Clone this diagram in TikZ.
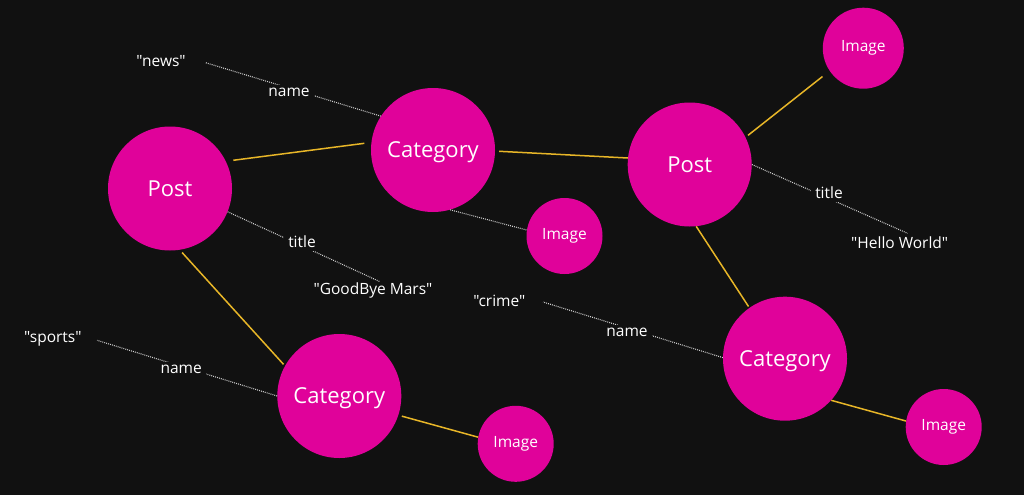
\documentclass[tikz,border=0pt]{standalone}
\usepackage{fontspec}
\setmainfont{Open Sans}[Ligatures=TeXOff]
\usetikzlibrary{calc}
\definecolor{bg}{RGB}{17,17,17}
\definecolor{mag}{RGB}{224,2,154}
\definecolor{gold}{RGB}{232,182,40}
\definecolor{dotc}{RGB}{210,210,210}
\tikzset{
  bigc/.style={circle, fill=mag, minimum size=124pt, inner sep=0pt, text=white, text height=15.5pt, text depth=0pt, font=\fontsize{22}{26}\selectfont},
  smallc/.style={circle, fill=mag, minimum size=76pt, inner sep=0pt, text=white, text height=7.4pt, text depth=0pt, font=\fontsize{15.5}{19}\selectfont},
  val/.style={text=white, inner sep=0pt, font=\fontsize{15.5}{19}\selectfont},
  lbl/.style={text=white, fill=bg, inner xsep=4pt, inner ysep=3pt, font=\fontsize{15.5}{19}\selectfont},
  rel/.style={draw=gold, line width=1.5pt},
  prop/.style={draw=dotc, line width=1.1pt, dash pattern=on 0.9pt off 1.1pt}
}
\begin{document}
\begin{tikzpicture}[x=1pt,y=-1pt]
\fill[bg] (0,0) rectangle (1024,495);
\useasboundingbox (0,0) rectangle (1024,495);
% circles
\node[bigc] (post1) at (170,188.5) {Post};
\node[bigc] (cat1) at (433,150) {Category};
\node[bigc] (post2) at (689.7,164.5) {Post};
\node[smallc, minimum size=81pt] (img1) at (863.3,48.2) {Image};
\node[smallc] (img2) at (564.5,236) {Image};
\node[bigc] (cat2) at (339.3,396) {Category};
\node[smallc] (img3) at (515.7,443.8) {Image};
\node[bigc] (cat3) at (785,358.7) {Category};
\node[smallc] (img4) at (943.7,427) {Image};
% values
\node[val] (news) at (161,61) {"news"};
\node[val] (gbm) at (373,290.5) {"GoodBye Mars"};
\node[val] (hw) at (899.7,243) {"Hello World"};
\node[val] (crime) at (499.3,301) {"crime"};
\node[val] (sports) at (52.8,339.3) {"sports"};
% relationships
\draw[rel, shorten <=7.5pt, shorten >=7pt] (post1.26) -- (cat1.173);
\draw[rel, shorten <=4pt] (cat1.-1) -- (post2.174);
\draw[rel, shorten <=3pt, shorten >=9pt] (post2.26) -- (img1.-146);
\draw[rel, shorten <=3.5pt, shorten >=2pt] (post1.-81) -- (cat2.151);
\draw[rel, shorten >=1.5pt] (post2.-84) -- (cat3.125);
\draw[rel, shorten <=3.5pt] (cat2.-18) -- (img3.170);
\draw[rel] (cat3.-42) -- (img4.171);
% properties
\draw[prop] (cat1.147) -- ($(news.center)+(44.7,1.7)$);
\draw[prop] (post1.-22) -- ($(gbm.center)+(7,-8.8)$);
\draw[prop] (cat1.-74) -- (img2.171);
\draw[prop] (post2.0) -- ($(hw.center)+(7.8,-9.7)$);
\draw[prop] (cat3.179) -- ($(crime.center)+(43.7,1)$);
\draw[prop] (cat2.180) -- ($(sports.center)+(44.3,1)$);
% labels
\node[lbl] (l1) at (289,92) {name};
\node[lbl] (l2) at (302,241.7) {title};
\node[lbl] (l3) at (829,193) {title};
\node[lbl] (l4) at (627,332) {name};
\node[lbl] (l5) at (181.2,369.3) {name};
\end{tikzpicture}
\end{document}
